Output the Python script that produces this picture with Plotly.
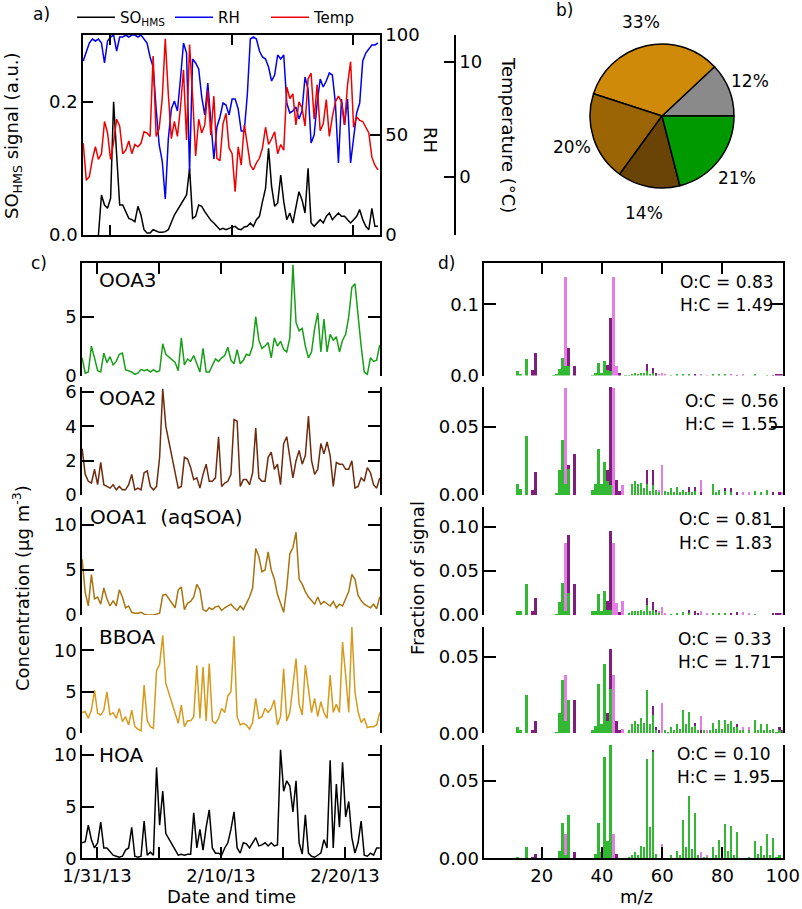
import datetime as dt
import plotly.graph_objects as go

W, H = 802, 909
BASE = dt.datetime(2013, 1, 31)
FONT = "DejaVu Sans"

# ---------------- Panel a data (days since 1/31/13, step 0.25 d) ----------------
A_START, A_STEP = -2.2, 0.25
SO_HMS = [None, None, None, None, None, 0.0, 0.06, 0.045, 0.04, 0.055,
          0.2, 0.12, 0.045, 0.045, 0.035, 0.025, 0.023, 0.02, 0.043, 0.03,
          0.008, 0.003, 0.003, 0.008, 0.006, 0.004, 0.004, 0.005, 0.008, 0.018,
          0.03, None, None, None, 0.06, 0.1, 0.025, 0.028, 0.045, 0.043,
          0.035, 0.028, 0.022, 0.018, 0.013, 0.008, 0.01, 0.008, 0.01, 0.012,
          0.013, 0.009, 0.008, 0.012, 0.013, 0.018, 0.013, 0.023, 0.028, 0.05,
          0.07, 0.13, 0.073, 0.043, 0.048, 0.09, 0.05, 0.023, 0.033, 0.018,
          0.043, 0.065, 0.053, 0.033, 0.1, 0.018, 0.013, 0.018, 0.023, 0.018,
          0.028, 0.033, 0.023, 0.028, 0.033, 0.028, 0.028, 0.023, 0.018, 0.023,
          0.028, 0.038, 0.023, 0.013, 0.008, 0.04, 0.013, 0.013]
RH = [87, 91, 96, 98, 97, 98, 96, 86, 97, 99,
      100, 92, 99, 99, 100, 99, 100, 100, 99, 100,
      98, 96, 89, 84, 63, 45, 37, 18, 48, 63,
      67, 62, 78, 96, 91, 32, 88, 86, 83, 69,
      60, 76, 57, 38, 54, 59, 66, 65, 60, 68,
      68, 63, 52, 52, 70, 98, 99, 98, 92, 89,
      88, 84, 77, 80, 90, 88, 90, 66, 61, 62,
      64, 58, 62, 79, 73, 46, 50, 66, 78, 74,
      77, 81, 80, 66, 36, 68, 55, 68, 36, 48,
      61, 66, 87, 91, 93, 95, 95, 96]
TEMP = [2.9, -0.3, 0.0, 1.5, 2.6, 1.5, 2.0, 4.8, 3.8, 1.5,
        3.0, 5.0, 4.4, 2.0, 2.3, 3.1, 2.0, 2.8, 2.6, 2.9,
        3.9, 3.8, 3.5, 10.5, 3.5, 4.2, 6.8, 12.0, 7.2, 3.3,
        4.8, 3.5, 6.0, 9.3, 3.2, 11.5, 7.0, 1.8, 5.0, 3.8,
        4.5, 7.5, 3.6, 7.0, 1.6, 1.4, 4.6, 5.5, 2.5, 2.0,
        -1.3, 2.6, 1.0, 4.5, 2.8, 1.0, 0.6, 1.2, 1.6, 2.5,
        4.3, 2.8, 3.3, 3.9, 2.0, 2.8, 2.3, 7.8, 6.8, 7.2,
        4.5, 6.5, 6.0, 4.4, 8.5, 9.0, 5.0, 8.0, 4.0, 4.6,
        6.7, 3.5, 5.2, 6.5, 7.0, 6.5, 4.5, 8.0, 10.0, 4.3,
        5.2, 4.9, 4.8, 4.3, 3.8, 1.7, 1.0, 0.6]

# ---------------- Panel c data (days since 1/31/13, step 0.25 d) ----------------
C_START, C_STEP = -1.2, 0.25
OOA3 = [1.5, 0.2, 0.3, 2.5, 1.5, 0.4, 0.3, 1.9, 1.1, 1.6,
        0.9, 1.2, 1.8, 1.9, 0.5, 0.4, 0.3, 0.1, 0.2, 0.5,
        0.4, 0.5, 0.3, 0.5, 0.3, 0.4, 2.7, 1.8, None, None,
        1.1, 0.4, 3.2, 0.9, 1.4, 1.2, 1.7, 1.0, 0.3, 2.3,
        0.3, 0.3, 0.8, 1.4, 1.2, 1.5, 1.7, 2.4, 1.3, 1.0,
        2.2, 1.0, 1.3, 1.8, 1.7, 2.5, 5.0, 3.0, 2.3, 2.5,
        2.8, 1.5, 3.2, 2.5, 2.9, 2.2, 2.0, 3.2, 9.4, 4.5,
        3.8, 4.0, 2.5, 1.5, 2.0, 4.0, 5.3, 2.0, 4.8, 2.0,
        3.5, 3.0, 3.3, 2.0, 3.0, 3.5, 5.0, 7.5, 7.8, 4.8,
        2.5, 0.3, 0.1, 1.5, 1.2, 1.3, 2.6]
OOA2 = [2.7, 1.2, 0.8, 0.7, 1.5, 0.6, 1.9, 0.6, 0.5, 0.4,
        0.6, 0.3, 0.5, 0.3, 0.3, 0.6, 1.2, 0.3, 0.4, 0.3,
        1.3, 1.4, 0.5, 0.3, 0.5, 2.2, 6.2, 4.0, None, None,
        None, 0.4, 0.5, 2.2, 2.1, 1.6, 0.9, 1.0, 0.4, 1.2,
        1.8, 0.8, 0.8, 1.0, 3.4, 0.5, 0.7, 0.8, 1.2, 4.4,
        4.3, 0.5, 0.9, 0.9, 0.6, 1.3, 3.9, 1.0, 0.8, 0.8,
        2.2, 2.5, 1.5, 1.8, 0.6, 3.0, 3.4, 2.2, 1.0, 2.0,
        2.6, 1.8, 2.3, 4.6, 2.0, 1.2, 1.5, 3.0, 2.4, 3.1,
        2.3, 0.5, 1.9, 1.8, 1.8, 1.5, 1.5, 2.0, 0.4, 0.5,
        1.0, 0.8, 1.6, 1.3, 0.6, 0.4, 1.0]
OOA1 = [6.2, 2.5, 1.0, 4.5, 1.8, 2.0, 1.2, 3.0, 1.8, 1.0,
        1.6, 1.0, 2.8, 2.0, 0.8, 1.0, 0.3, 0.2, 0.2, 0.3,
        0.1, 0.0, 0.0, 0.0, 0.1, 0.2, 2.2, 2.3, None, None,
        0.8, 2.8, 3.1, 0.6, 1.3, 1.5, 2.0, 3.4, 2.8, 0.6,
        0.4, 0.8, 0.6, 0.9, 1.0, 0.5, 0.8, 1.0, 1.2, 0.8,
        0.5, 1.0, 0.6, 1.3, 2.0, 3.0, 7.4, 6.5, 4.8, 5.0,
        7.0, 5.0, 4.0, 2.3, 1.2, 0.3, 3.0, 6.8, 7.5, 9.2,
        4.0, 3.4, 2.6, 2.0, 1.6, 1.2, 2.0, 1.2, 1.5, 1.2,
        1.0, 1.5, 0.8, 1.2, 1.0, 1.8, 2.6, 4.5, 4.0, 2.2,
        1.6, 1.2, 1.0, 0.8, 1.2, 0.7, 2.0]
BBOA = [2.5, 2.6, 1.8, 2.8, 5.2, 2.4, 2.2, 2.8, 5.0, 2.2,
        2.5, 1.8, 3.0, 1.4, 2.0, 1.0, 2.8, 0.8, 0.5, 0.3,
        5.8, 1.5, 0.8, 0.6, 7.5, 8.3, 11.8, 6.0, None, None,
        None, 1.2, 3.4, 0.8, 1.5, 1.5, 2.0, 8.2, 1.8, 8.0,
        1.5, 8.4, 1.5, 1.2, 1.8, 3.0, 2.5, 4.5, 5.0, 11.7,
        2.0, 1.0, 1.2, 1.0, 0.5, 1.3, 4.2, 1.8, 2.0, 3.0,
        2.5, 3.0, 4.0, 1.0, 2.0, 7.8, 1.5, 2.5, 6.0, 9.0,
        3.5, 2.2, 8.2, 5.0, 2.5, 4.2, 2.0, 3.8, 2.5, 1.8,
        7.0, 2.5, 3.5, 2.5, 11.0, 7.0, 2.5, 12.8, 5.0, 2.6,
        1.3, 1.8, 0.7, 0.8, 0.8, 1.0, 2.5]
HOA = [1.5, 1.6, 3.2, 1.8, 1.0, 1.5, 3.5, 1.0, 1.0, 0.6,
       0.3, 0.2, 0.1, 0.2, 0.8, 1.0, 3.0, 0.2, 0.1, 0.2,
       3.6, 0.3, 0.6, 0.3, 8.8, 3.2, 6.5, 2.4, None, None,
       None, 0.3, 0.4, 0.3, 0.4, 0.4, 4.4, 1.0, 2.8, 0.8,
       3.0, 4.7, 1.0, 0.5, 0.5, 0.3, 1.0, 1.5, 2.8, 4.5,
       1.0, 0.5, 1.5, 1.4, 1.0, 1.5, 2.0, 1.2, 1.3, 1.5,
       1.2, 1.5, 1.2, 1.3, 10.5, 6.5, 7.5, 7.0, 4.5, 7.5,
       1.5, 0.4, 4.2, 0.5, 0.2, 0.1, 0.3, 0.5, 1.8, 1.0,
       9.5, 1.0, 7.2, 3.0, 9.3, 4.0, 5.5, 2.0, 0.5, 1.5,
       3.6, 0.3, 0.2, 0.5, 0.3, 1.0, 1.0]

# ---------------- Panel b data ----------------
PIE_LABELS = ["HOA", "BBOA", "OOA1", "OOA2", "OOA3"]
PIE_VALUES = [12, 33, 20, 14, 21]
PIE_COLORS = ["#8a8a8a", "#d08a0a", "#9b6404", "#6a4406", "#009a00"]

# ---------------- Panel d data (m/z : fraction) ----------------
OOA3_CH = {12: 0.007, 13: 0.002, 15: 0.023, 24: 0.001, 25: 0.002, 26: 0.009, 27: 0.025, 28: 0.014,
           29: 0.014, 37: 0.001, 38: 0.003, 39: 0.017, 40: 0.003, 41: 0.020, 42: 0.008, 43: 0.006,
           48: 0.001, 49: 0.001, 50: 0.002, 51: 0.003, 52: 0.002, 53: 0.003, 54: 0.004, 55: 0.006,
           56: 0.002, 57: 0.004, 58: 0.001, 63: 0.001, 65: 0.002, 67: 0.002, 69: 0.002, 77: 0.002,
           79: 0.002, 81: 0.002, 91: 0.002, 95: 0.001}
OOA3_CHO1 = {17: 0.008, 18: 0.031, 29: 0.025, 31: 0.013, 42: 0.007, 43: 0.075, 46: 0.003, 55: 0.010,
             57: 0.006, 58: 0.002, 71: 0.002, 85: 0.001, 97: 0.001, 98: 0.002, 99: 0.002, 100: 0.002}
OOA3_CHOgt1 = {28: 0.124, 44: 0.138, 45: 0.013, 59: 0.002, 60: 0.003, 61: 0.002, 73: 0.002, 75: 0.001,
               83: 0.002, 87: 0.002}

OOA2_CH = {12: 0.008, 13: 0.0045, 15: 0.043, 25: 0.0015, 26: 0.018, 27: 0.040, 28: 0.008, 29: 0.019,
           37: 0.004, 38: 0.008, 39: 0.034, 40: 0.008, 41: 0.024, 42: 0.010, 43: 0.007, 50: 0.008,
           51: 0.010, 52: 0.008, 53: 0.009, 54: 0.005, 55: 0.008, 56: 0.003, 57: 0.007, 58: 0.004,
           59: 0.002, 61: 0.003, 62: 0.002, 63: 0.005, 64: 0.002, 65: 0.006, 66: 0.002, 67: 0.004,
           68: 0.002, 69: 0.002, 70: 0.002, 71: 0.003, 77: 0.008, 78: 0.002, 79: 0.004, 81: 0.003,
           83: 0.002, 91: 0.003, 93: 0.002, 95: 0.004}
OOA2_CHO1 = {17: 0.004, 18: 0.017, 29: 0.003, 31: 0.030, 42: 0.008, 43: 0.072, 45: 0.011, 46: 0.003,
             55: 0.010, 57: 0.011, 69: 0.004, 71: 0.003, 73: 0.002, 81: 0.002, 83: 0.003, 85: 0.002,
             97: 0.002, 99: 0.002}
OOA2_CHOgt1 = {28: 0.070, 44: 0.078, 47: 0.007, 59: 0.002, 60: 0.022, 73: 0.009, 87: 0.002, 89: 0.002,
               100: 0.002}

OOA1_CH = {12: 0.005, 13: 0.004, 15: 0.035, 25: 0.001, 26: 0.015, 27: 0.036, 28: 0.005, 29: 0.025,
           37: 0.004, 38: 0.004, 39: 0.024, 40: 0.004, 41: 0.027, 42: 0.006, 43: 0.006, 49: 0.002,
           50: 0.004, 51: 0.004, 52: 0.004, 53: 0.006, 54: 0.004, 55: 0.011, 56: 0.005, 57: 0.006,
           58: 0.003, 59: 0.002, 63: 0.001, 65: 0.002, 67: 0.003, 69: 0.002, 77: 0.002, 79: 0.002,
           81: 0.002, 91: 0.001}
OOA1_CHO1 = {17: 0.005, 18: 0.019, 29: 0.066, 31: 0.035, 42: 0.010, 43: 0.089, 46: 0.003, 55: 0.008,
             57: 0.009, 58: 0.003, 69: 0.004, 71: 0.004, 72: 0.002, 83: 0.002, 85: 0.003, 97: 0.002,
             98: 0.002, 99: 0.002}
OOA1_CHOgt1 = {28: 0.076, 44: 0.082, 45: 0.014, 47: 0.016, 59: 0.003, 60: 0.009, 61: 0.002, 73: 0.004,
               75: 0.002, 87: 0.003, 89: 0.002, 100: 0.002}

BBOA_CH = {12: 0.004, 13: 0.002, 15: 0.025, 25: 0.001, 26: 0.013, 27: 0.035, 28: 0.008, 29: 0.022,
           37: 0.002, 38: 0.005, 39: 0.032, 40: 0.006, 41: 0.045, 42: 0.008, 43: 0.029, 49: 0.002,
           50: 0.006, 51: 0.008, 52: 0.006, 53: 0.010, 54: 0.007, 55: 0.028, 56: 0.006, 57: 0.012,
           58: 0.002, 61: 0.002, 62: 0.001, 63: 0.004, 64: 0.002, 65: 0.006, 66: 0.003, 67: 0.015,
           68: 0.006, 69: 0.014, 70: 0.004, 71: 0.005, 72: 0.002, 74: 0.002, 76: 0.002, 77: 0.007,
           78: 0.003, 79: 0.009, 80: 0.003, 81: 0.009, 82: 0.006, 83: 0.008, 84: 0.004, 85: 0.004,
           86: 0.002, 87: 0.002, 89: 0.002, 91: 0.009, 92: 0.002, 93: 0.006, 94: 0.002, 95: 0.006,
           96: 0.002, 97: 0.003, 98: 0.001, 99: 0.002}
BBOA_CHO1 = {17: 0.002, 18: 0.008, 31: 0.022, 42: 0.005, 43: 0.026, 45: 0.008, 46: 0.002, 57: 0.006,
             58: 0.002, 59: 0.002, 71: 0.002, 73: 0.002, 85: 0.002, 99: 0.002, 100: 0.002}
BBOA_CHOgt1 = {28: 0.030, 44: 0.038, 47: 0.003, 60: 0.020, 73: 0.009, 75: 0.002, 87: 0.002, 89: 0.002}

HOA_CH = {12: 0.0005, 15: 0.007, 26: 0.005, 27: 0.023, 28: 0.002, 29: 0.028, 38: 0.0025, 39: 0.023,
          40: 0.004, 41: 0.0655, 42: 0.011, 43: 0.073, 49: 0.001, 50: 0.002, 51: 0.004, 52: 0.002,
          53: 0.008, 54: 0.007, 55: 0.064, 56: 0.020, 57: 0.069, 58: 0.003, 63: 0.002, 65: 0.005,
          66: 0.002, 67: 0.025, 68: 0.007, 69: 0.040, 70: 0.006, 71: 0.029, 72: 0.002, 74: 0.001,
          75: 0.001, 77: 0.007, 78: 0.002, 79: 0.012, 80: 0.003, 81: 0.022, 82: 0.005, 83: 0.021,
          84: 0.002, 85: 0.017, 89: 0.001, 91: 0.011, 92: 0.003, 93: 0.008, 94: 0.002, 95: 0.016,
          96: 0.002, 97: 0.013, 98: 0.001, 99: 0.002}
HOA_CHO1 = {17: 0.0005, 18: 0.003, 31: 0.004, 45: 0.003, 57: 0.001}
HOA_CHOgt1 = {28: 0.014, 44: 0.016, 60: 0.0095, 73: 0.004, 75: 0.001}

OC = [0.83, 0.56, 0.81, 0.33, 0.10]
HC = [1.49, 1.55, 1.83, 1.71, 1.95]

# ---------------- helpers ----------------
def day(t):
    return BASE + dt.timedelta(days=t)

def xp(p):
    return p / W

def yp(p):
    return 1 - p / H

AXIS = dict(showline=True, linecolor="black", linewidth=1.5, ticks="inside", ticklen=12,
            tickwidth=1.5, tickcolor="black", showgrid=False, zeroline=False,
            tickfont=dict(family=FONT, size=18, color="black"))

t_a = [day(A_START + A_STEP * i) for i in range(len(RH))]
t_c = [day(C_START + C_STEP * i) for i in range(len(HOA))]

fig = go.Figure()

# ---- panel a ----
fig.add_trace(go.Scatter(x=t_a, y=SO_HMS, name="SO<sub>HMS</sub>", mode="lines", connectgaps=True,
                         line=dict(color="black", width=1.5), xaxis="x", yaxis="y", legend="legend"))
fig.add_trace(go.Scatter(x=t_a, y=RH, name="RH", mode="lines",
                         line=dict(color="#0000ee", width=1.5), xaxis="x", yaxis="y2", legend="legend2"))
fig.add_trace(go.Scatter(x=t_a, y=TEMP, name="Temp", mode="lines",
                         line=dict(color="#ee0000", width=1.5), xaxis="x", yaxis="y3", legend="legend3"))

# ---- panel b ----
fig.add_trace(go.Pie(values=PIE_VALUES, labels=PIE_LABELS, sort=False, direction="counterclockwise",
                     rotation=46.8, marker=dict(colors=PIE_COLORS, line=dict(color="black", width=1.5)),
                     textinfo="none",
                     domain=dict(x=[xp(590), xp(734)], y=[yp(188), yp(44)]),
                     showlegend=False, hoverinfo="skip"))

# ---- panel c ----
C_SERIES = [("OOA3", OOA3, "#17a017"), ("OOA2", OOA2, "#6e2b0e"), ("OOA1  (aqSOA)", OOA1, "#a87410"),
            ("BBOA", BBOA, "#d69a1c"), ("HOA", HOA, "black")]
ROW_PX = [(262.5, 375.5), (387, 495), (507, 615), (627, 733.3), (745, 858.3)]
C_TOP = [9.6, 6.3, 12.0, 12.8, 10.97]
C_TICKS = [[0, 5], [0, 2, 4, 6], [0, 5, 10], [0, 5, 10], [0, 5, 10]]
D_TOP = [0.159, 0.079, 0.1223, 0.0694, 0.0733]
D_TICKS = [[0, 0.1], [0, 0.05], [0, 0.05, 0.1], [0, 0.05], [0, 0.05]]
D_FMT = [".1f", ".2f", ".2f", ".2f", ".2f"]
SPECTRA = [(OOA3_CH, OOA3_CHO1, OOA3_CHOgt1), (OOA2_CH, OOA2_CHO1, OOA2_CHOgt1),
           (OOA1_CH, OOA1_CHO1, OOA1_CHOgt1), (BBOA_CH, BBOA_CHO1, BBOA_CHOgt1),
           (HOA_CH, HOA_CHO1, HOA_CHOgt1)]
FAM_COLORS = ["#33b833", "#7e1f7c", "#e47ee4"]

for r, (name, vals, col) in enumerate(C_SERIES):
    fig.add_trace(go.Scatter(x=t_c, y=vals, mode="lines", connectgaps=True, showlegend=False,
                             line=dict(color=col, width=1.5), xaxis="x%d" % (2 + r), yaxis="y%d" % (4 + r)))
for r, fams in enumerate(SPECTRA):
    for fam, colr in zip(fams, FAM_COLORS):
        mz = sorted(fam)
        fig.add_trace(go.Bar(x=mz, y=[fam[m] for m in mz], width=0.55, marker=dict(color=colr, line=dict(width=0)),
                             showlegend=False, xaxis="x%d" % (7 + r), yaxis="y%d" % (9 + r)))

def legend_at(xpx):
    return dict(orientation="h", x=xp(xpx), y=yp(1), xanchor="left", yanchor="top",
                font=dict(family=FONT, size=15, color="black"), itemwidth=38,
                bgcolor="rgba(0,0,0,0)")

layout = dict(width=W, height=H, margin=dict(l=0, r=0, t=0, b=0, autoexpand=False), paper_bgcolor="white",
              plot_bgcolor="rgba(0,0,0,0)", barmode="stack",
              font=dict(family=FONT, size=18, color="black"),
              legend=legend_at(72), legend2=legend_at(170), legend3=legend_at(266))

# panel a axes
layout["xaxis"] = dict(AXIS, domain=[xp(83), xp(380)], type="date", range=[day(-2.22), day(22.22)],
                       tickvals=[day(0), day(10), day(20)], showticklabels=False, mirror="ticks",
                       ticklen=10, anchor="y")
layout["yaxis"] = dict(AXIS, domain=[yp(235), yp(35)], range=[0, 0.3], tickvals=[0, 0.2],
                       tickformat=".1f", ticklen=10, anchor="x")
layout["yaxis2"] = dict(AXIS, overlaying="y", side="right", anchor="x", range=[0, 100],
                        tickvals=[0, 50, 100], ticklen=10)
layout["yaxis3"] = dict(AXIS, overlaying="y", side="right", anchor="free", position=xp(455),
                        range=[-5.07, 12.32], tickvals=[0, 10], ticklen=10)

c_ticks = [day(0), day(5), day(10), day(15), day(20)]
c_text = ["1/31/13", "", "2/10/13", "", "2/20/13"]
for r in range(5):
    top, bot = ROW_PX[r]
    xa = "xaxis%d" % (2 + r)
    ya = "yaxis%d" % (4 + r)
    xd = dict(AXIS, domain=[xp(82), xp(380)], type="date", range=[day(-1.21), day(22.82)],
              anchor="y%d" % (4 + r), tickvals=c_ticks, ticktext=c_text)
    if r == 0:
        xd.update(side="top", showticklabels=False)
    elif r == 4:
        xd.update(side="bottom", showticklabels=True)
    else:
        xd.update(showline=False, ticks="", showticklabels=False)
    layout[xa] = xd
    layout[ya] = dict(AXIS, domain=[yp(bot), yp(top)], range=[0, C_TOP[r]], tickvals=C_TICKS[r],
                      mirror="ticks", anchor="x%d" % (2 + r))
    # panel d
    xa = "xaxis%d" % (7 + r)
    ya = "yaxis%d" % (9 + r)
    xd = dict(AXIS, domain=[xp(484.3), xp(782.7)], range=[0.9, 100], anchor="y%d" % (9 + r),
              tickvals=[20, 40, 60, 80, 100])
    if r == 0:
        xd.update(side="top", showticklabels=False)
    elif r == 4:
        xd.update(side="bottom", showticklabels=True)
    else:
        xd.update(showline=False, ticks="", showticklabels=False)
    layout[xa] = xd
    layout[ya] = dict(AXIS, domain=[yp(bot), yp(top)], range=[0, D_TOP[r]], tickvals=D_TICKS[r],
                      tickformat=D_FMT[r], mirror="ticks", anchor="x%d" % (7 + r))

ann = []

def text(s, x, y, size=18, angle=0, xanchor="center"):
    ann.append(dict(text=s, x=xp(x), y=yp(y), xref="paper", yref="paper", showarrow=False,
                    xanchor=xanchor, yanchor="middle", textangle=angle,
                    font=dict(family=FONT, size=size, color="black")))

text("a)", 41, 14, 17)
text("b)", 564, 10, 17)
text("c)", 39, 263, 17)
text("d)", 446, 263, 17)
text("SO<sub>HMS</sub> signal (a.u.)", 13, 136, 18, -90)
text("RH", 431, 140, 18, 90)
text("Temperature (°C)", 509, 135, 18, 90)
text("Concentration (µg m<sup>-3</sup>)", 21, 588, 18, -90)
text("Fraction of signal", 417, 578, 18, -90)
text("Date and time", 231, 896, 18)
text("m/z", 636, 896, 18)

# pie percentage labels (placed outside the slices)
PIE_TEXT_POS = [(750, 81), (641, 22), (572, 147), (644, 213), (737, 178)]
for v, (lx, ly) in zip(PIE_VALUES, PIE_TEXT_POS):
    text("%d%%" % v, lx, ly, 17)

LABEL_POS = [(97, 280), (97, 398), (88, 517), (97, 637), (97, 755)]
for (name, _, _), (lx, ly) in zip(C_SERIES, LABEL_POS):
    text(name, lx, ly, 20, 0, "left")

OC_POS = [(678, 282, 305), (683, 401, 424), (677, 519, 543), (676, 639, 662), (675, 754, 777)]
for oc, hc, (lx, y1, y2) in zip(OC, HC, OC_POS):
    text("O:C = %.2f" % oc, lx, y1, 17, 0, "left")
    text("H:C = %.2f" % hc, lx, y2, 17, 0, "left")

layout["annotations"] = ann
fig.update_layout(layout)
fig.write_html("out.html", config={"displayModeBar": False},
               post_script="document.body.style.margin='0';document.body.style.padding='0';"
                           "document.body.style.overflow='hidden';")
